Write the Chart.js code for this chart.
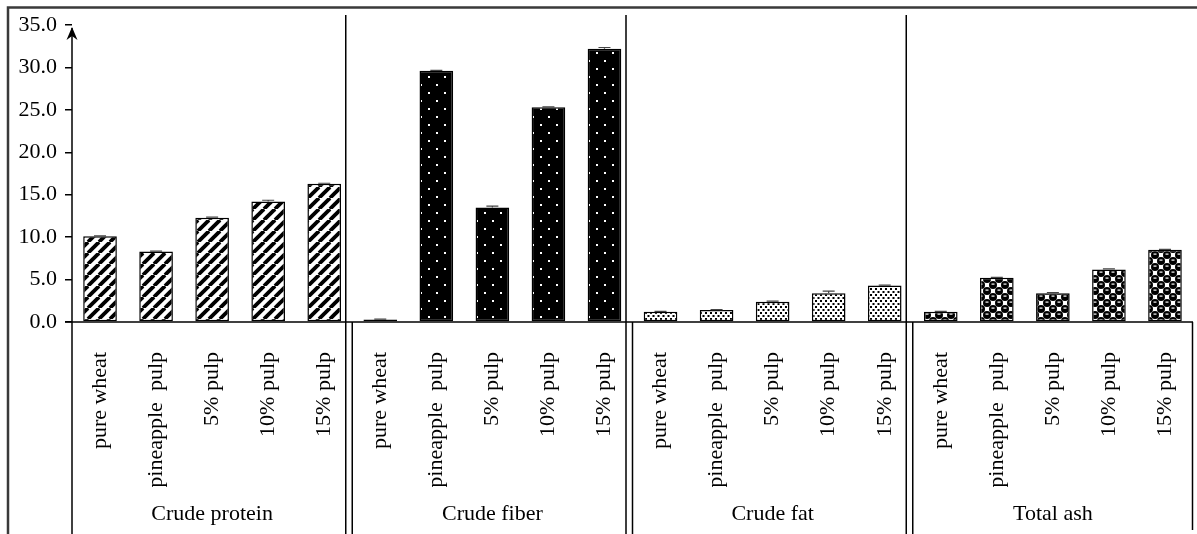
<!DOCTYPE html>
<html>
<head>
<meta charset="utf-8">
<script src="https://cdn.jsdelivr.net/npm/chart.js@4.4.1/dist/chart.umd.min.js"></script>
<style>
    html, body { margin: 0; padding: 0; background: #fff; }
    #wrap { position: relative; width: 1197px; height: 534px; }
</style>
</head>
<body>
<div id="wrap"><canvas id="chart"></canvas></div>
<script>
const groupNames = ['Crude protein', 'Crude fiber', 'Crude fat', 'Total ash'];
const sampleNames = ['pure wheat', 'pineapple  pulp', '5% pulp', '10% pulp', '15% pulp'];

const crudeProtein = [10.1, 8.3, 12.3, 14.2, 16.3];
const crudeFiber = [0.3, 29.6, 13.5, 25.3, 32.2];
const crudeFat = [1.2, 1.4, 2.4, 3.4, 4.3];
const totalAsh = [1.2, 5.2, 3.4, 6.2, 8.5];

const proteinErr = [0.05, 0.05, 0.05, 0.15, 0.05];
const fiberErr = [0.05, 0.05, 0.15, 0.05, 0.15];
const fatErr = [0.05, 0.05, 0.05, 0.25, 0.05];
const ashErr = [0.05, 0.05, 0.05, 0.05, 0.05];

const yTicks = [0, 5, 10, 15, 20, 25, 30, 35];

(function app() {

    const serif = "'Liberation Serif', 'Times New Roman', serif";

    function makeTile(w, h, paint) {
        const c = document.createElement('canvas');
        c.width = w;
        c.height = h;
        const ctx = c.getContext('2d');
        paint(ctx, w, h);
        return document.getElementById('chart').getContext('2d').createPattern(c, 'repeat');
    }

    const stripes = makeTile(11, 11, (ctx, w, h) => {
        ctx.fillStyle = '#fff';
        ctx.fillRect(0, 0, w, h);
        ctx.strokeStyle = '#000';
        ctx.lineWidth = 3.8;
        [-w, 0, w].forEach(off => {
            ctx.beginPath();
            ctx.moveTo(off, h);
            ctx.lineTo(off + w, 0);
            ctx.stroke();
        });
    });

    const darkDots = makeTile(16, 16, (ctx, w, h) => {
        ctx.fillStyle = '#000';
        ctx.fillRect(0, 0, w, h);
        ctx.fillStyle = '#fff';
        ctx.fillRect(4, 4, 2, 2);
        ctx.fillRect(12, 12, 2, 2);
    });

    const fineDots = makeTile(5, 6, (ctx, w, h) => {
        ctx.fillStyle = '#fff';
        ctx.fillRect(0, 0, w, h);
        ctx.fillStyle = '#000';
        ctx.fillRect(0, 0, 2, 2);
        ctx.fillRect(2.5, 3, 2, 2);
    });

    const bubbles = makeTile(12, 12, (ctx, w, h) => {
        ctx.fillStyle = '#fff';
        ctx.fillRect(0, 0, w, h);
        const centres = [[3, 3], [15, 3], [3, 15], [-3, -3], [9, 9], [-3, 9], [9, -3], [21, 9], [9, 21]];
        centres.forEach(([cx, cy]) => {
            ctx.fillStyle = '#000';
            ctx.beginPath();
            ctx.arc(cx, cy, 4, 0, Math.PI * 2);
            ctx.fill();
            ctx.fillStyle = '#fff';
            ctx.fillRect(cx - 1.5, cy - 1.5, 3, 1.2);
        });
    });

    const groupValues = [crudeProtein, crudeFiber, crudeFat, totalAsh];
    const groupErrors = [proteinErr, fiberErr, fatErr, ashErr];
    const groupFills = [stripes, darkDots, fineDots, bubbles];

    const labels = [];
    const values = [];
    const errors = [];
    const fills = [];
    groupValues.forEach((vals, g) => {
        vals.forEach((v, i) => {
            labels.push(sampleNames[i]);
            values.push(v);
            errors.push(groupErrors[g][i]);
            fills.push(groupFills[g]);
        });
    });

    const decorations = {
        id: 'decorations',
        beforeDraw(chart) {
            const ctx = chart.ctx;
            ctx.save();
            ctx.strokeStyle = '#3a3a3a';
            ctx.lineWidth = 2.5;
            ctx.beginPath();
            ctx.moveTo(8, chart.height);
            ctx.lineTo(8, 7.5);
            ctx.lineTo(chart.width, 7.5);
            ctx.stroke();
            ctx.restore();
        },
        afterDatasetsDraw(chart) {
            const ctx = chart.ctx;
            const x = chart.scales.x;
            const y = chart.scales.y;
            const area = chart.chartArea;
            const zeroY = y.getPixelForValue(0);
            const meta = chart.getDatasetMeta(0);

            ctx.save();

            // error bars
            ctx.strokeStyle = '#444';
            ctx.lineWidth = 1.2;
            meta.data.forEach((bar, i) => {
                const top = y.getPixelForValue(values[i] + errors[i]);
                ctx.beginPath();
                ctx.moveTo(bar.x, bar.y);
                ctx.lineTo(bar.x, top);
                ctx.moveTo(bar.x - 6, top);
                ctx.lineTo(bar.x + 6, top);
                ctx.stroke();
            });

            ctx.strokeStyle = '#000';
            ctx.lineWidth = 1.5;

            // zero line
            ctx.beginPath();
            ctx.moveTo(area.left - 7, zeroY);
            ctx.lineTo(area.right, zeroY);
            ctx.stroke();

            // y axis with arrow, continued through the label band
            ctx.beginPath();
            ctx.moveTo(area.left, chart.height);
            ctx.lineTo(area.left, area.top + 3);
            ctx.stroke();
            ctx.fillStyle = '#000';
            ctx.beginPath();
            ctx.moveTo(area.left, area.top + 2);
            ctx.lineTo(area.left - 5.5, area.top + 15);
            ctx.lineTo(area.left, area.top + 11);
            ctx.lineTo(area.left + 5.5, area.top + 15);
            ctx.closePath();
            ctx.fill();

            // group separators
            for (let g = 1; g < groupNames.length; g++) {
                const edge = (x.getPixelForValue(g * 5 - 1) + x.getPixelForValue(g * 5)) / 2;
                const inner = edge - 6.5;
                ctx.beginPath();
                ctx.moveTo(inner, area.top - 10);
                ctx.lineTo(inner, chart.height);
                ctx.moveTo(edge, zeroY);
                ctx.lineTo(edge, chart.height);
                ctx.stroke();
            }

            // right edge of label band
            ctx.beginPath();
            ctx.moveTo(area.right - 0.5, zeroY);
            ctx.lineTo(area.right - 0.5, chart.height - 4);
            ctx.stroke();

            ctx.restore();
        }
    };

    const configuration = {
        type: 'bar',
        data: {
            labels: labels,
            datasets: [{
                data: values,
                backgroundColor: fills,
                borderColor: '#000',
                borderWidth: 1.5,
                borderSkipped: false,
                barPercentage: 0.6,
                categoryPercentage: 1.0,
                xAxisID: 'x',
                yAxisID: 'y'
            }]
        },
        options: {
            responsive: true,
            maintainAspectRatio: false,
            animation: false,
            layout: { padding: { top: 25, right: 4, bottom: 0, left: 0 } },
            plugins: {
                legend: { display: false },
                tooltip: { enabled: false }
            },
            scales: {
                x: {
                    type: 'category',
                    position: 'bottom',
                    grid: { display: false },
                    border: { display: false },
                    ticks: {
                        autoSkip: false,
                        maxRotation: 90,
                        minRotation: 90,
                        padding: 22,
                        color: '#000',
                        font: { family: serif, size: 22 }
                    },
                    afterFit: scale => {
                        scale.height = 165;
                        scale.paddingLeft = 0;
                        scale.paddingRight = 0;
                    }
                },
                x2: {
                    type: 'category',
                    position: 'bottom',
                    labels: groupNames,
                    offset: true,
                    grid: { display: false },
                    border: { display: false },
                    ticks: {
                        autoSkip: false,
                        maxRotation: 0,
                        padding: 6,
                        color: '#000',
                        font: { family: serif, size: 22 }
                    },
                    afterFit: scale => {
                        scale.height = 47;
                        scale.paddingLeft = 0;
                        scale.paddingRight = 0;
                    }
                },
                y: {
                    min: 0,
                    max: 35,
                    afterBuildTicks: scale => {
                        scale.ticks = yTicks.map(v => ({ value: v }));
                    },
                    grid: {
                        drawOnChartArea: false,
                        tickLength: 7,
                        color: '#000',
                        lineWidth: 1.5
                    },
                    border: { display: false },
                    ticks: {
                        padding: 8,
                        color: '#000',
                        font: { family: serif, size: 22 },
                        callback: v => Number(v).toFixed(1)
                    },
                    afterFit: scale => {
                        scale.width = 72;
                    }
                }
            }
        },
        plugins: [decorations]
    };

    new Chart(document.getElementById('chart'), configuration);
})();
</script>
</body>
</html>
